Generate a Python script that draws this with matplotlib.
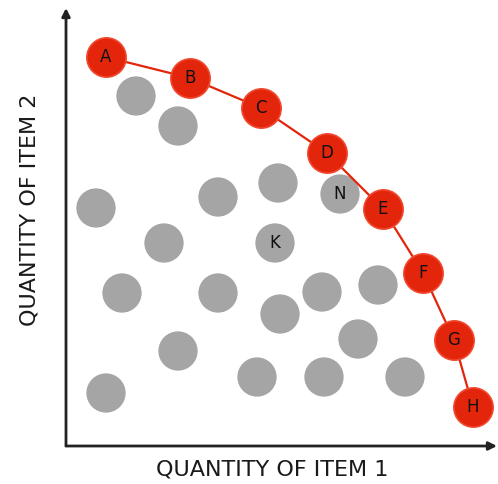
import matplotlib
matplotlib.use("Agg")
import matplotlib.pyplot as plt

# Frontier points (red), quantity of item 1 / item 2
frontier_labels = ["A", "B", "C", "D", "E", "F", "G", "H"]
frontier_x = [40, 124, 195, 261, 317, 357, 388, 407]
frontier_y = [389, 368, 338, 293, 237, 173, 106, 39]

# Interior points (gray)
inner_labels = ["", "", "", "", "", "N", "", "K", "", "", "", "", "", "", "", "", "", "", ""]
inner_x = [70, 112, 30, 152, 212, 274, 98, 209, 56, 152, 214, 256, 312, 112, 292, 40, 191, 258, 339]
inner_y = [350, 320, 238, 249, 263, 252, 203, 203, 153, 153, 132, 154, 161, 95, 107, 53, 69, 69, 69]

x_label = "QUANTITY OF ITEM 1"
y_label = "QUANTITY OF ITEM 2"

W, H = 498, 484
fig = plt.figure(figsize=(W / 100, H / 100), dpi=100)
ox, oy = 66, 446
ax = fig.add_axes([ox / W, (H - oy) / H, (W - ox) / W, (oy - 8) / H])
ax.set_xlim(0, W - ox)
ax.set_ylim(0, oy - 8)
ax.set_axis_off()

red = "#e3250b"
gray = "#a5a5a5"
size = 800

ax.scatter(inner_x, inner_y, s=size, color=gray, edgecolors="none", zorder=2)
for lab, x, y in zip(inner_labels, inner_x, inner_y):
    if lab:
        ax.text(x, y, lab, ha="center", va="center", fontsize=12, color="#111111",
                family="DejaVu Sans", zorder=4)

ax.plot(frontier_x, frontier_y, color=red, lw=1.6, zorder=3)
ax.scatter(frontier_x, frontier_y, s=size, color=red, edgecolors="#f04a30", linewidths=1.2, zorder=4)
for lab, x, y in zip(frontier_labels, frontier_x, frontier_y):
    ax.text(x, y, lab, ha="center", va="center", fontsize=12, color="#111111",
            family="DejaVu Sans", zorder=5)

axis_col = "#222222"
ax.annotate("", xy=(0, oy - 8), xytext=(0, 0), xycoords="data",
            arrowprops=dict(arrowstyle="-|>", color=axis_col, lw=2, mutation_scale=12,
                            shrinkA=0, shrinkB=0), annotation_clip=False)
ax.annotate("", xy=(W - ox - 1, 0), xytext=(0, 0), xycoords="data",
            arrowprops=dict(arrowstyle="-|>", color=axis_col, lw=2, mutation_scale=12,
                            shrinkA=0, shrinkB=0), annotation_clip=False)

fig.text(272 / W, 1 - 470 / H, x_label, ha="center", va="center", fontsize=16,
         color="#1a1a1a", family="DejaVu Sans")
fig.text(30 / W, 1 - 210 / H, y_label, ha="center", va="center", fontsize=16,
         color="#1a1a1a", family="DejaVu Sans", rotation=90)

fig.savefig("out.png", dpi=100, facecolor="white")
